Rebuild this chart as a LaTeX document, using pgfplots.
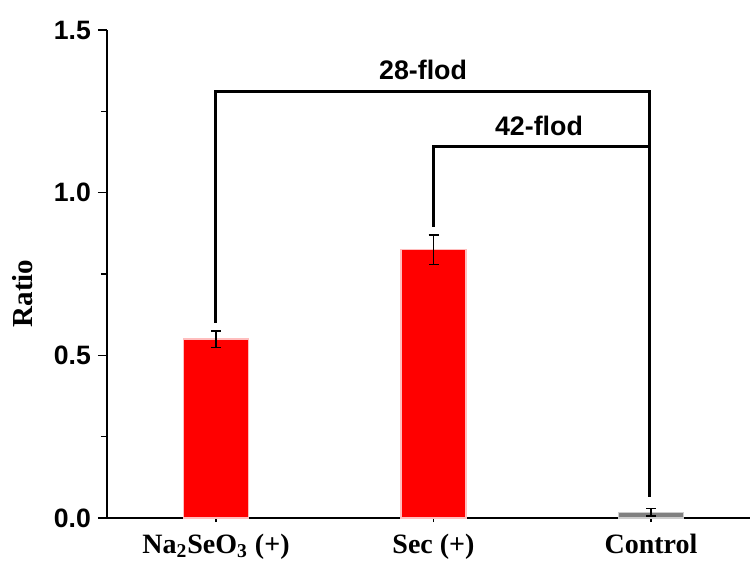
\documentclass[border=0pt]{standalone}
\usepackage{pgfplots}
\pgfplotsset{compat=1.18}
\usepackage{fontspec}
\setmainfont{Liberation Serif}
\newfontfamily\arialfont{Liberation Sans}
\definecolor{barred}{RGB}{255,0,0}
\definecolor{barpink}{RGB}{255,190,190}
\definecolor{bargray}{RGB}{128,128,128}
\definecolor{barlgray}{RGB}{205,205,205}
\begin{document}
\begin{tikzpicture}
\begin{axis}[
  at={(0,0)}, anchor=south west,
  scale only axis, width=321.5pt, height=244pt,
  xmin=-0.501, xmax=2.455, ymin=0, ymax=1.5,
  axis x line=bottom, axis y line=left,
  axis line style={-, line width=1pt},
  clip=false,
  xtick={0,1,2},
  xticklabels={Na\textsubscript{2}SeO\textsubscript{3} (+), Sec (+), Control},
  ytick={0,0.5,1,1.5}, minor ytick={0.25,0.75,1.25},
  tick align=outside, major tick length=4.5pt, minor tick length=3pt,
  tick style={black, line width=0.8pt},
  xtick style={/pgfplots/major tick length=2pt},
  /pgf/number format/assume math mode=true,
  yticklabel style={font=\arialfont\bfseries\fontsize{13.3}{15}\selectfont,
    /pgf/number format/.cd, fixed, fixed zerofill, precision=1},
  xticklabel style={font=\bfseries\fontsize{14}{16}\selectfont},
  ylabel={Ratio},
  ylabel style={at={(axis description cs:-0.132,0.46)}, anchor=center,
    font=\bfseries\fontsize{14.5}{16}\selectfont},
]
\addplot[ybar, bar width=32.5pt, bar shift=0pt, fill=barred, draw=barpink, line width=0.6pt,
  error bars/.cd, y dir=both, y explicit,
  error bar style={black, line width=0.6pt},
  error mark options={rotate=90, mark size=2.5pt, black, line width=0.6pt}]
  coordinates {(0,0.55) +- (0,0.025) (1,0.825) +- (0,0.045)};
\addplot[ybar, bar width=32.5pt, bar shift=0pt, fill=bargray, draw=barlgray, line width=0.6pt,
  error bars/.cd, y dir=both, y explicit,
  error bar style={black, line width=0.6pt},
  error mark options={rotate=90, mark size=2.5pt, black, line width=0.6pt}]
  coordinates {(2,0.018) +- (0,0.012)};
\addplot[black, line width=1.5pt, mark=none] coordinates {(0,0.6) (0,1.31) (1.995,1.31) (1.995,0.065)};
\addplot[black, line width=1.5pt, mark=none] coordinates {(1,0.895) (1,1.142) (1.995,1.142)};
\node[font=\arialfont\bfseries\fontsize{13.4}{15}\selectfont] at (axis cs:0.952,1.376) {28-flod};
\node[font=\arialfont\bfseries\fontsize{13.4}{15}\selectfont] at (axis cs:1.485,1.204) {42-flod};
\end{axis}
\pgfresetboundingbox
\path[use as bounding box] (-53.5pt,-22.5pt) rectangle (321.5pt,259pt);
\end{tikzpicture}
\end{document}
